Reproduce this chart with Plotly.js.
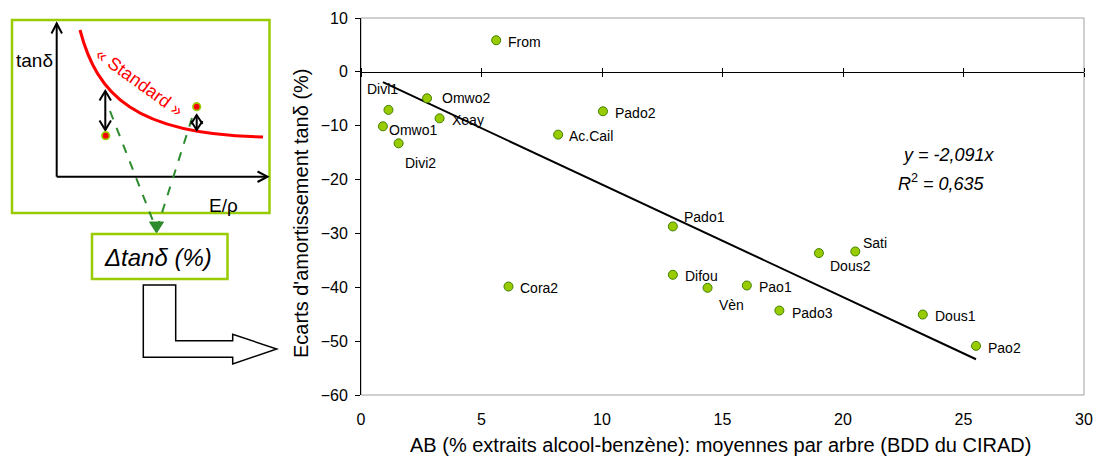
<!DOCTYPE html>
<html>
<head>
<meta charset="utf-8">
<script src="https://cdn.plot.ly/plotly-3.0.1.min.js"></script>
<style>html,body{margin:0;padding:0;background:#fff;}#chart{width:1093px;height:457px;}</style>
</head>
<body>
<div id="chart"></div>
<script>
// ---- data ----
const names = ['From','Divi1','Omwo2','Omwo1','Xeay','Divi2','Pado2','Ac.Cail','Pado1','Cora2','Difou','Vèn','Pao1','Pado3','Dous2','Sati','Dous1','Pao2'];
const abPct = [5.61, 1.14, 2.74, 0.91, 3.26, 1.56, 10.04, 8.18, 12.94, 6.12, 12.94, 14.38, 16.01, 17.36, 19.00, 20.51, 23.31, 25.52];
const dTanDelta = [5.87, -7.06, -4.91, -10.11, -8.63, -13.27, -7.32, -11.66, -28.70, -39.86, -37.68, -40.10, -39.67, -44.32, -33.65, -33.35, -45.06, -50.88];
const slope = -2.091;
const eqText = 'y = -2,091x';
const r2Text = '0,635';
const xTicks = [0, 5, 10, 15, 20, 25, 30];
const yTicks = [-60, -50, -40, -30, -20, -10, 0, 10];
const xTitle = 'AB (% extraits alcool-benzène): moyennes par arbre (BDD du CIRAD)';
const yTitle = 'Ecarts d\'amortissement tanδ (%)';

// label offsets in px (dx right, dy down) - style only
const labelOffsets = [[12,1.5],[-21.6,-21],[15,0],[5.6,3.3],[12,1.3],[6,19.6],[12.3,1.6],[11.3,1],[10.7,-9.4],[11.7,1.6],[12.3,1],[11,17],[11.7,1.6],[12.3,2],[10.7,13.3],[8,-8.3],[12.3,1.3],[12.3,2.3]];

const FONT = 'Arial, "Liberation Sans", sans-serif';
const L = 361, T = 18, R = 9, B = 62, W = 1093, H = 457;
const PW = W - L - R, PH = H - T - B, BOT = H - B;
function pt(px, py) { return [(px - L) / PW, (BOT - py) / PH]; }
function P(str) {
  return str.replace(/(-?[\d.]+)[ ,]+(-?[\d.]+)/g, (m, a, b) => {
    const p = pt(+a, +b); return p[0].toFixed(5) + ',' + p[1].toFixed(5);
  });
}
function pathShape(d, color, width, extra) {
  return Object.assign({type: 'path', xref: 'paper', yref: 'paper', path: P(d), line: {color: color, width: width}}, extra || {});
}
function rectShape(x0, y0, x1, y1, color, width, fill) {
  const a = pt(x0, y0), b = pt(x1, y1);
  return {type: 'rect', xref: 'paper', yref: 'paper', x0: a[0], y0: a[1], x1: b[0], y1: b[1],
          line: {color: color, width: width}, fillcolor: fill || 'rgba(0,0,0,0)'};
}
function circleShape(cx, cy, r, fill) {
  const a = pt(cx - r, cy - r), b = pt(cx + r, cy + r);
  return {type: 'circle', xref: 'paper', yref: 'paper', x0: a[0], y0: a[1], x1: b[0], y1: b[1],
          line: {width: 0}, fillcolor: fill};
}

const xMin = Math.min(...abPct), xMax = Math.max(...abPct);

const traces = [
  {x: [xMin, xMax], y: [slope * xMin, slope * xMax], mode: 'lines', line: {color: '#000', width: 2}, showlegend: false, hoverinfo: 'skip'},
  {x: abPct, y: dTanDelta, mode: 'markers', text: names, showlegend: false,
   marker: {size: 9, color: '#99CC00', line: {color: '#3F7F00', width: 1}}},
  {x: [0], y: [0], xaxis: 'x2', mode: 'markers', marker: {opacity: 0}, showlegend: false, hoverinfo: 'skip'},
  {x: [0], y: [0], xaxis: 'x3', mode: 'markers', marker: {opacity: 0}, showlegend: false, hoverinfo: 'skip'}
];

const annotations = names.map((n, i) => ({
  x: abPct[i], y: dTanDelta[i], xref: 'x', yref: 'y', text: n, showarrow: false,
  xanchor: 'left', yanchor: 'middle', xshift: labelOffsets[i][0] - 2, yshift: -labelOffsets[i][1],
  font: {family: FONT, size: 14, color: '#000'}
}));

function paperAnn(px, py, text, opts) {
  const p = pt(px, py);
  return Object.assign({x: p[0], y: p[1], xref: 'paper', yref: 'paper', text: text, showarrow: false,
    xanchor: 'center', yanchor: 'middle', font: {family: FONT, size: 14, color: '#000'}}, opts || {});
}
annotations.push(paperAnn(900, 155, '<i>' + eqText + '</i>', {xanchor: 'left', font: {family: FONT, size: 18, color: '#000'}}));
annotations.push(paperAnn(896, 182, '<i>R</i><sup>2</sup><i> = ' + r2Text + '</i>', {xanchor: 'left', font: {family: FONT, size: 18, color: '#000'}}));
// axis titles
annotations.push(paperAnn(720, 445, xTitle, {font: {family: FONT, size: 20, color: '#000'}}));
annotations.push(paperAnn(301, 214, yTitle, {textangle: -90, font: {family: FONT, size: 20, color: '#000'}}));
// diagram texts
annotations.push(paperAnn(34, 60, 'tanδ', {font: {family: FONT, size: 19, color: '#000'}}));
annotations.push(paperAnn(223, 205, 'E/ρ', {font: {family: FONT, size: 19, color: '#000'}}));
annotations.push(paperAnn(139, 82, '« Standard »', {textangle: 36, font: {family: FONT, size: 18, color: '#FF0000'}}));
annotations.push(paperAnn(158, 257, '<i>Δtanδ (%)</i>', {font: {family: FONT, size: 24, color: '#000'}}));

const shapes = [
  {type: 'rect', xref: 'paper', yref: 'paper', x0: 0, y0: 0, x1: 1, y1: 1, line: {color: '#A0A0A0', width: 1}, layer: 'below'},
  // diagram
  rectShape(12, 20, 269.5, 213, '#99CC00', 2.5),
  pathShape('M 56.7 176.7 L 56.7 23.5', '#000', 2),
  pathShape('M 51.5 33.5 L 56.7 23.5 L 62 33.5', '#000', 2),
  pathShape('M 56.7 176.7 L 267.5 176.7', '#000', 2),
  pathShape('M 257.5 171.5 L 267.5 176.7 L 257.5 182', '#000', 2),
  pathShape('M 80 30 C 97 95 135 135 263 137', '#FF0000', 3),
  pathShape('M 110 111 L 156.5 230', '#2E8B2E', 2, {line: {color: '#2E8B2E', width: 2, dash: 'dash'}}),
  pathShape('M 192 118 L 156.5 230', '#2E8B2E', 2, {line: {color: '#2E8B2E', width: 2, dash: 'dash'}}),
  pathShape('M 149.5 222 L 156.5 233 L 163.5 222 Z', '#2E8B2E', 1, {fillcolor: '#2E8B2E'}),
  pathShape('M 105.3 91 L 105.3 130', '#000', 2),
  pathShape('M 99.5 100.5 L 105.3 91 L 111 100.5', '#000', 2),
  pathShape('M 99.5 120.5 L 105.3 130 L 111 120.5', '#000', 2),
  pathShape('M 196.7 115 L 196.7 130', '#000', 2),
  pathShape('M 191 124 L 196.7 115 L 202.5 124', '#000', 2),
  pathShape('M 191 121 L 196.7 130 L 202.5 121', '#000', 2),
  circleShape(105.7, 135.7, 4.6, '#99CC00'),
  circleShape(105.7, 135.7, 2.9, '#FF0000'),
  circleShape(196.7, 106.7, 4.6, '#99CC00'),
  circleShape(196.7, 106.7, 2.9, '#FF0000'),
  rectShape(92, 234, 227.5, 279, '#99CC00', 2.5),
  pathShape('M 143.3 285 L 175.7 285 L 175.7 340.7 L 232.7 340.7 L 232.7 334.3 L 276.7 349 L 232.7 364 L 232.7 357.3 L 143.3 357.3 Z', '#000', 1.5, {fillcolor: '#FFFFFF'})
];

const zeroPos = (0 - yTicks[0]) / (yTicks[yTicks.length - 1] - yTicks[0]);

const layout = {
  width: W, height: H,
  margin: {l: L, r: R, t: T, b: B},
  paper_bgcolor: '#FFFFFF', plot_bgcolor: 'rgba(0,0,0,0)',
  font: {family: FONT, size: 16, color: '#000'},
  showlegend: false,
  xaxis: {
    range: [0, 30], tickvals: xTicks, ticks: '', showline: false, showgrid: false, zeroline: false,
    ticklabelstandoff: 13, tickfont: {family: FONT, size: 16, color: '#000'}
  },
  yaxis: {
    range: [-60, 10], tickvals: yTicks, ticks: 'outside', ticklen: 5, tickcolor: '#000', tickwidth: 1,
    showline: true, linecolor: '#000', linewidth: 1, showgrid: false, zeroline: false,
    ticklabelstandoff: 4, tickfont: {family: FONT, size: 16, color: '#000'}
  },
  xaxis2: {
    overlaying: 'x', anchor: 'free', position: zeroPos, side: 'bottom', range: [0, 30], tickvals: xTicks,
    ticks: 'outside', ticklen: 4, tickcolor: '#000', showline: true, linecolor: '#000', linewidth: 1,
    showticklabels: false, showgrid: false, zeroline: false
  },
  xaxis3: {
    overlaying: 'x', anchor: 'free', position: zeroPos, side: 'top', range: [0, 30], tickvals: xTicks,
    ticks: 'outside', ticklen: 4, tickcolor: '#000', showline: false,
    showticklabels: false, showgrid: false, zeroline: false
  },
  shapes: shapes,
  annotations: annotations
};

Plotly.newPlot('chart', traces, layout, {displayModeBar: false, staticPlot: true});
</script>
</body>
</html>
